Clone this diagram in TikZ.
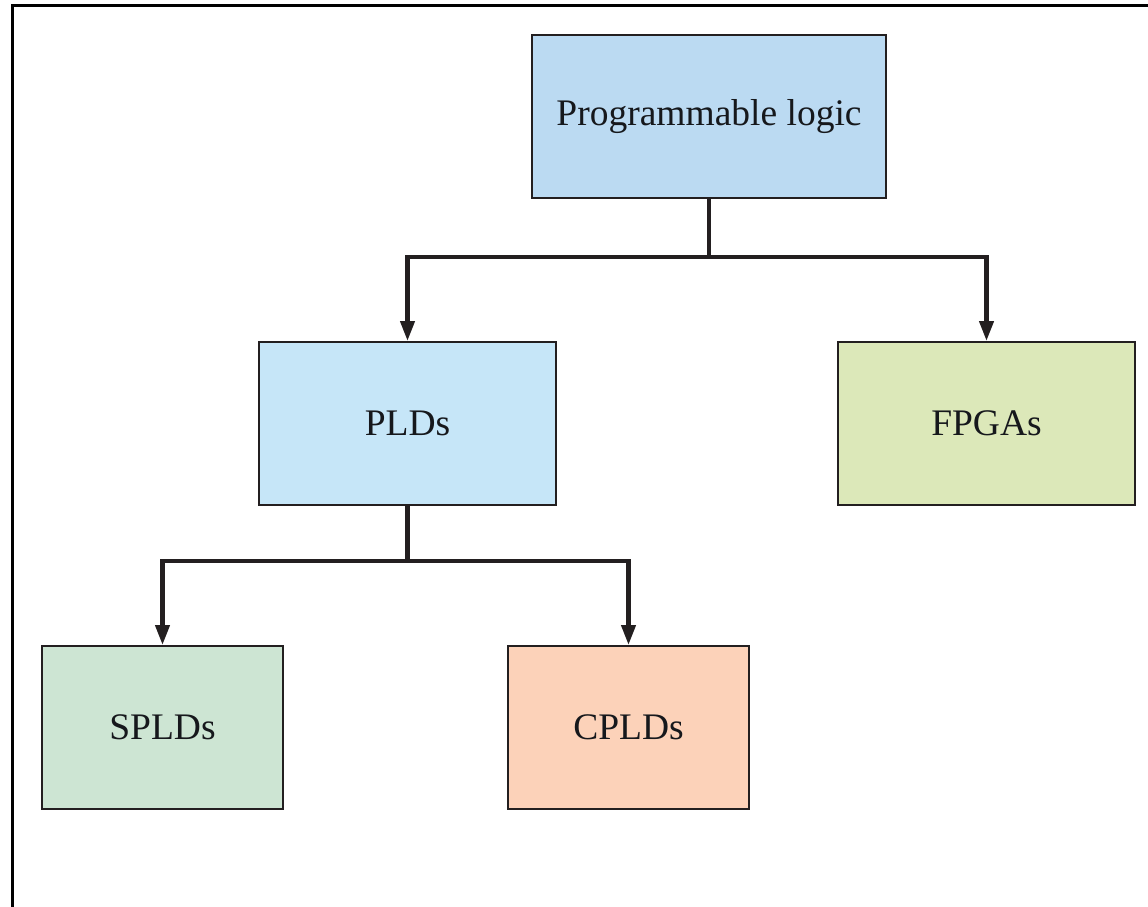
\documentclass[tikz,border=0pt]{standalone}
\usepackage{fontspec}
\setmainfont{Liberation Serif}
\usetikzlibrary{arrows.meta}
\definecolor{topfill}{RGB}{187,218,242}
\definecolor{pldfill}{RGB}{198,230,248}
\definecolor{fpgafill}{RGB}{220,232,185}
\definecolor{spldfill}{RGB}{205,229,211}
\definecolor{cpldfill}{RGB}{252,210,185}
\definecolor{ink}{RGB}{35,31,32}
\definecolor{txt}{RGB}{22,24,28}
\tikzset{
  box/.style={draw=ink, line width=2pt, rectangle, minimum height=163pt, inner sep=0pt,
    text=txt, font=\fontsize{37.5}{41}\selectfont},
  wide/.style={box, minimum width=297pt},
  narrow/.style={box, minimum width=241pt},
  link/.style={draw=ink, line width=4.2pt, line join=miter},
  arr/.style={link, -{Triangle[length=20pt,width=14pt]}}
}
\begin{document}
\begin{tikzpicture}[x=1pt,y=-1pt]
\useasboundingbox (0,0) rectangle (1148,906);
\draw[line width=3pt] (12,912) -- (12,5) -- (1154,5);
\node[box, minimum width=354pt, fill=topfill] (top) at (709,116.5) {Programmable logic};
\node[wide, fill=pldfill] (plds) at (407.5,423.5) {PLDs};
\node[wide, fill=fpgafill] (fpgas) at (986.5,423.5) {FPGAs};
\node[narrow, fill=spldfill] (splds) at (162.5,727.5) {SPLDs};
\node[narrow, fill=cpldfill] (cplds) at (628.5,727.5) {CPLDs};
\coordinate (j1) at (709,257);
\coordinate (j2) at (407.5,561);
\draw[link] (top.south) -- (j1);
\draw[arr] (j1) -| (plds.north);
\draw[arr] (j1) -| (fpgas.north);
\draw[link] (plds.south) -- (j2);
\draw[arr] (j2) -| (splds.north);
\draw[arr] (j2) -| (cplds.north);
\end{tikzpicture}
\end{document}
